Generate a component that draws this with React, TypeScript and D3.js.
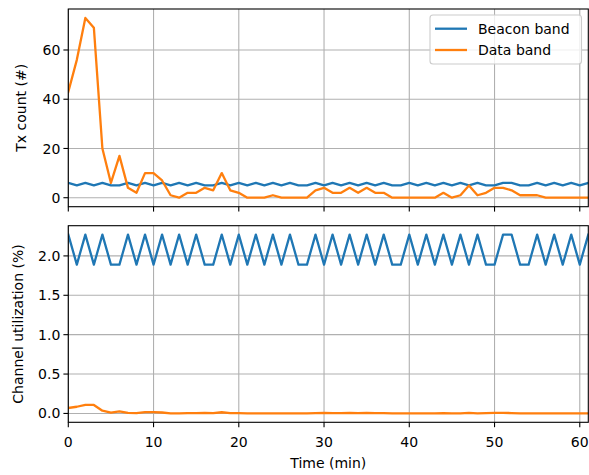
import * as d3 from "d3";

// per-minute samples, t = 0..61
const beaconTx = [
  6, 5, 6, 5, 6, 5, 5, 6, 5, 6, 5, 6, 5, 6, 5, 6, 5, 5, 6, 5, 6, 5, 6, 5, 6, 5, 6, 5, 5, 6,
  5, 6, 5, 6, 5, 6, 5, 6, 5, 5, 6, 5, 6, 5, 6, 5, 6, 5, 6, 5, 5, 6, 6, 5, 5, 6, 5, 6, 5, 6,
  5, 6,
];
const dataTx = [
  43, 56, 73, 69, 20, 6, 17, 4, 2, 10, 10, 7, 1, 0, 2, 2, 4, 3, 10, 3, 2, 0, 0, 0, 1, 0, 0, 0, 0, 3,
  4, 2, 2, 4, 2, 4, 2, 2, 0, 0, 0, 0, 0, 0, 2, 0, 1, 5, 1, 2, 4, 4, 3, 1, 1, 1, 0, 0, 0, 0,
  0, 0,
];
const beaconUtil = [
  2.27, 1.89, 2.27, 1.89, 2.27, 1.89, 1.89, 2.27, 1.89, 2.27, 1.89, 2.27, 1.89, 2.27, 1.89,
  2.27, 1.89, 1.89, 2.27, 1.89, 2.27, 1.89, 2.27, 1.89, 2.27, 1.89, 2.27, 1.89, 1.89, 2.27,
  1.89, 2.27, 1.89, 2.27, 1.89, 2.27, 1.89, 2.27, 1.89, 1.89, 2.27, 1.89, 2.27, 1.89, 2.27,
  1.89, 2.27, 1.89, 2.27, 1.89, 1.89, 2.27, 2.27, 1.89, 1.89, 2.27, 1.89, 2.27, 1.89, 2.27,
  1.89, 2.27,
];
const dataUtil = [
  0.07, 0.085, 0.11, 0.108, 0.035, 0.01, 0.025, 0.007, 0.004, 0.016, 0.016, 0.012, 0.002,
  0.001, 0.004, 0.004, 0.007, 0.005, 0.015, 0.005, 0.004, 0.001, 0.001, 0.001, 0.002, 0.001,
  0.001, 0.001, 0.001, 0.005, 0.007, 0.004, 0.004, 0.007, 0.004, 0.006, 0.004, 0.004, 0.001,
  0.001, 0.001, 0.001, 0.001, 0.001, 0.004, 0.001, 0.002, 0.008, 0.002, 0.004, 0.007, 0.007,
  0.005, 0.002, 0.002, 0.002, 0.001, 0.001, 0.001, 0.001, 0.001, 0.001,
];
const xTicks = [0, 10, 20, 30, 40, 50, 60];
const txTicks = [0, 20, 40, 60];
const utilTicks = [0, 0.5, 1.0, 1.5, 2.0];
const seriesNames = ["Beacon band", "Data band"];

const W = 589;
const H = 475;
const font = "DejaVu Sans";
const fs = 14;
const blue = "#1f77b4";
const orange = "#ff7f0e";
const gridColor = "#b0b0b0";
const lw = 2.3;

const left = 68.3;
const right = 588.3;

// matplotlib-style 5% margins
function padded(vals: number[]): [number, number] {
  const [lo, hi] = d3.extent(vals) as [number, number];
  const m = (hi - lo) * 0.05;
  return [lo - m, hi + m];
}

const x = d3.scaleLinear().domain([0, beaconTx.length - 1]).range([left, right]);

function Panel({
  top,
  bottom,
  series,
  ticks,
  fmt,
  label,
  labelX,
  showX,
}: {
  top: number;
  bottom: number;
  series: number[][];
  ticks: number[];
  fmt: (v: number) => string;
  label: string;
  labelX: number;
  showX: boolean;
}) {
  const y = d3.scaleLinear().domain(padded(series.flat())).range([bottom, top]);
  const line = d3
    .line<number>()
    .x((_, i) => x(i))
    .y((d) => y(d));
  const colors = [blue, orange];
  const clipId = `clip-${Math.round(top)}`;

  return (
    <g>
      <defs>
        <clipPath id={clipId}>
          <rect x={left} y={top} width={right - left} height={bottom - top} />
        </clipPath>
      </defs>
      {xTicks.map((t) => (
        <line key={"gx" + t} x1={x(t)} x2={x(t)} y1={top} y2={bottom} stroke={gridColor} strokeWidth={1.1} />
      ))}
      {ticks.map((t) => (
        <line key={"gy" + t} x1={left} x2={right} y1={y(t)} y2={y(t)} stroke={gridColor} strokeWidth={1.1} />
      ))}
      <g clipPath={`url(#${clipId})`}>
        {series.map((s, i) => (
          <path
            key={i}
            d={line(s) ?? ""}
            fill="none"
            stroke={colors[i]}
            strokeWidth={lw}
            strokeLinejoin="round"
            strokeLinecap="square"
          />
        ))}
      </g>
      <rect x={left} y={top} width={right - left} height={bottom - top} fill="none" stroke="#000" strokeWidth={1.1} />
      {ticks.map((t) => (
        <g key={"ty" + t}>
          <line x1={left - 4.9} x2={left} y1={y(t)} y2={y(t)} stroke="#000" strokeWidth={1.1} />
          <text x={left - 8} y={y(t)} dy="0.36em" textAnchor="end" fontSize={fs} fontFamily={font}>
            {fmt(t)}
          </text>
        </g>
      ))}
      {xTicks.map((t) => (
        <g key={"tx" + t}>
          <line x1={x(t)} x2={x(t)} y1={bottom} y2={bottom + 4.9} stroke="#000" strokeWidth={1.1} />
          {showX && (
            <text x={x(t)} y={bottom + 24.5} textAnchor="middle" fontSize={fs} fontFamily={font}>
              {t}
            </text>
          )}
        </g>
      ))}
      <text
        transform={`translate(${labelX}, ${(top + bottom) / 2}) rotate(-90)`}
        textAnchor="middle"
        dy="0.36em"
        fontSize={fs}
        fontFamily={font}
      >
        {label}
      </text>
    </g>
  );
}

export default function App() {
  const legendX = 430;
  const legendY = 15;
  return (
    <svg width={W} height={H} style={{ position: "absolute", left: 0, top: 0, background: "#fff" }}>
      <rect width={W} height={H} fill="#fff" />
      <Panel
        top={9}
        bottom={206.7}
        series={[beaconTx, dataTx]}
        ticks={txTicks}
        fmt={(v) => String(v)}
        label="Tx count (#)"
        labelX={21}
        showX={false}
      />
      <Panel
        top={225.7}
        bottom={422.3}
        series={[beaconUtil, dataUtil]}
        ticks={utilTicks}
        fmt={(v) => v.toFixed(1)}
        label="Channel utilization (%)"
        labelX={17.5}
        showX={true}
      />
      <text x={(left + right) / 2} y={468} textAnchor="middle" fontSize={fs} fontFamily={font}>
        Time (min)
      </text>
      <g>
        <rect
          x={legendX}
          y={legendY}
          width={151.5}
          height={49}
          rx={3}
          fill="#fff"
          fillOpacity={0.8}
          stroke="#cccccc"
          strokeWidth={1.1}
        />
        {seriesNames.map((name, i) => {
          const yy = legendY + 13.7 + i * 21.3;
          return (
            <g key={name}>
              <line x1={legendX + 5} x2={legendX + 37} y1={yy} y2={yy} stroke={i === 0 ? blue : orange} strokeWidth={lw} />
              <text x={legendX + 48} y={yy} dy="0.36em" fontSize={fs} fontFamily={font}>
                {name}
              </text>
            </g>
          );
        })}
      </g>
    </svg>
  );
}
